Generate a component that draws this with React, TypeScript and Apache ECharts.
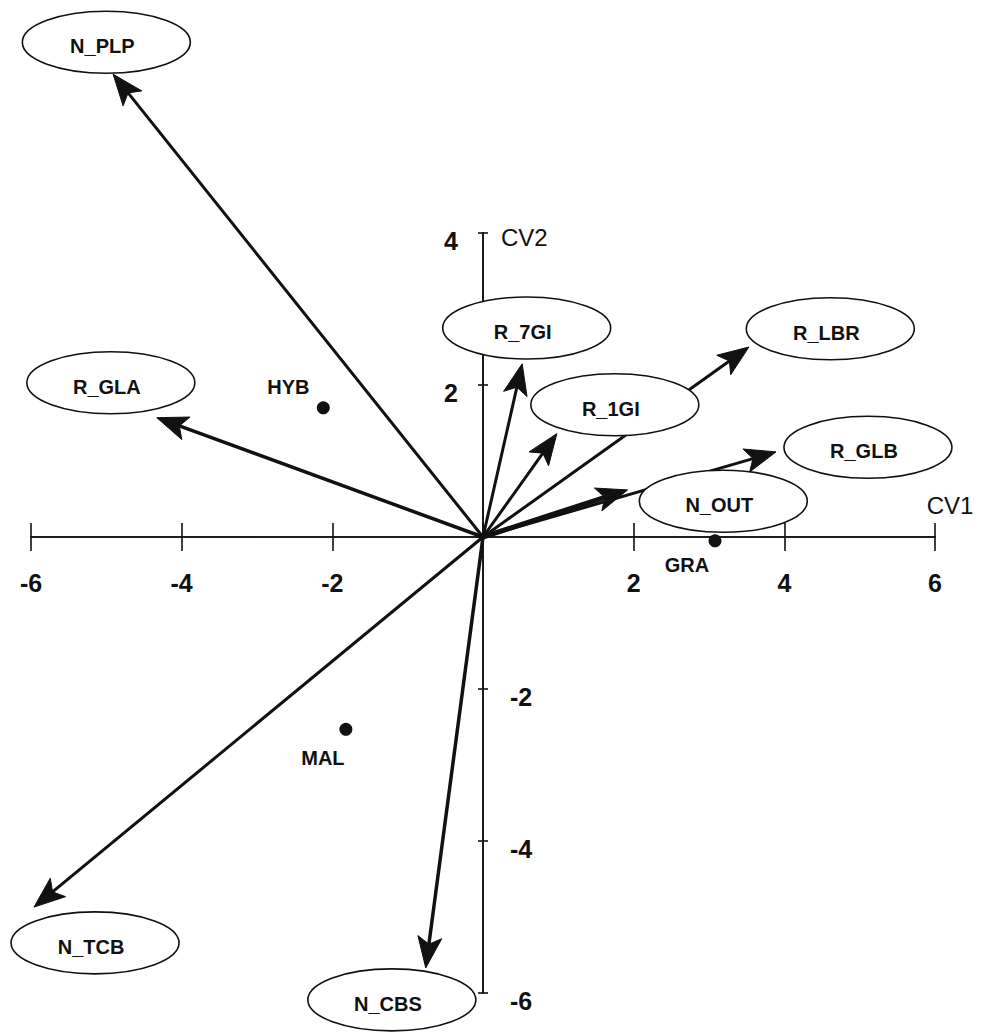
import React, { useEffect, useRef } from "react";
import * as echarts from "echarts";

// ---- data ----
const X_TICKS = [-6, -4, -2, 0, 2, 4, 6];
const Y_TICKS = [-6, -4, -2, 0, 2, 4];
const X_NAME = "CV1";
const Y_NAME = "CV2";

const VAR_NAMES = ["N_PLP", "R_GLA", "R_7GI", "R_1GI", "R_LBR", "R_GLB", "N_OUT", "N_TCB", "N_CBS"];
const VEC_CV1 = [-4.91, -4.33, 0.52, 0.98, 3.53, 3.89, 1.92, -5.96, -0.76];
const VEC_CV2 = [6.09, 1.57, 2.28, 1.36, 2.5, 1.12, 0.62, -4.87, -5.67];
const LABEL_CV1 = [-5.0, -4.94, 0.58, 1.75, 4.61, 5.11, 3.19, -5.15, -1.21];
const LABEL_CV2 = [6.51, 2.03, 2.75, 1.74, 2.74, 1.18, 0.47, -5.34, -6.09];

const GROUP_NAMES = ["HYB", "MAL", "GRA"];
const GROUP_CV1 = [-2.12, -1.82, 3.08];
const GROUP_CV2 = [1.7, -2.53, -0.05];

// ---- styles ----
const INK = "#111111";
const FONT = '"Liberation Sans", Arial, Helvetica, sans-serif';
const ARROW_WIDTH: Record<string, number> = { R_GLA: 3.5, N_CBS: 3.5, N_OUT: 5 };
const GROUP_LABEL_OFFSET: Record<string, [number, number]> = {
  HYB: [-35, -21],
  MAL: [-23, 29],
  GRA: [-28, 24],
};

export default function App() {
  const ref = useRef<HTMLDivElement>(null);

  useEffect(() => {
    document.body.style.margin = "0";
    if (!ref.current) return;
    const chart = echarts.init(ref.current, null, { renderer: "svg" });

    const xMin = X_TICKS[0];
    const xMax = X_TICKS[X_TICKS.length - 1];
    const yMin = Y_TICKS[0];
    const yMax = Y_TICKS[Y_TICKS.length - 1];
    const step = X_TICKS[1] - X_TICKS[0];

    const axisLine = { onZero: true, onZeroAxisIndex: 0, lineStyle: { color: INK, width: 1.6 } };
    const tickStyle = { color: INK, width: 1.6 };

    const baseAxis = {
      type: "value",
      interval: step,
      axisLine,
      axisLabel: { show: false },
      splitLine: { show: false },
    };

    const textStyle = (extra: any) => ({
      fontFamily: FONT,
      fill: INK,
      ...extra,
    });

    const option: any = {
      animation: false,
      backgroundColor: "#ffffff",
      grid: { left: 31, right: 49, top: 233, bottom: 39, containLabel: false, outerBoundsMode: "none" },
      xAxis: [
        { ...baseAxis, position: "bottom", min: xMin, max: xMax, axisTick: { show: true, length: 14, lineStyle: tickStyle } },
        { ...baseAxis, position: "top", min: xMin, max: xMax, axisTick: { show: true, length: 14, lineStyle: tickStyle } },
      ],
      yAxis: [
        { ...baseAxis, position: "left", min: yMin, max: yMax, axisTick: { show: true, length: 5, lineStyle: tickStyle } },
        { ...baseAxis, position: "right", min: yMin, max: yMax, axisTick: { show: true, length: 5, lineStyle: tickStyle } },
      ],
      series: [
        {
          name: "vectors",
          type: "custom",
          coordinateSystem: "cartesian2d",
          clip: false,
          z: 2,
          encode: { x: 0, y: 1 },
          data: VEC_CV1.map((x, i) => [x, VEC_CV2[i]]),
          renderItem: (params: any, api: any) => {
            const o = api.coord([0, 0]);
            const t = api.coord([api.value(0), api.value(1)]);
            const dx = t[0] - o[0];
            const dy = t[1] - o[1];
            const len = Math.hypot(dx, dy) || 1;
            const ux = dx / len;
            const uy = dy / len;
            const px = -uy;
            const py = ux;
            const L = 31;
            const H = 12;
            const N = 24;
            const name = VAR_NAMES[params.dataIndex];
            const w = ARROW_WIDTH[name] ?? 3;
            const bx = t[0] - ux * L;
            const by = t[1] - uy * L;
            const nx = t[0] - ux * N;
            const ny = t[1] - uy * N;
            return {
              type: "group",
              children: [
                {
                  type: "line",
                  shape: { x1: o[0], y1: o[1], x2: nx, y2: ny },
                  style: { stroke: INK, lineWidth: w, lineCap: "round" },
                },
                {
                  type: "polygon",
                  shape: {
                    points: [
                      [t[0], t[1]],
                      [bx + px * H, by + py * H],
                      [nx, ny],
                      [bx - px * H, by - py * H],
                    ],
                  },
                  style: { fill: INK, stroke: INK, lineWidth: 1 },
                },
              ],
            };
          },
        },
        {
          name: "variables",
          type: "custom",
          coordinateSystem: "cartesian2d",
          clip: false,
          z: 3,
          encode: { x: 0, y: 1 },
          data: LABEL_CV1.map((x, i) => [x, LABEL_CV2[i]]),
          renderItem: (params: any, api: any) => {
            const c = api.coord([api.value(0), api.value(1)]);
            return {
              type: "group",
              children: [
                {
                  type: "ellipse",
                  shape: { cx: c[0], cy: c[1], rx: 84, ry: 31 },
                  style: { fill: "#ffffff", stroke: INK, lineWidth: 1.6 },
                },
                {
                  type: "text",
                  style: textStyle({
                    text: VAR_NAMES[params.dataIndex],
                    x: c[0] - 4,
                    y: c[1] + 4,
                    align: "center",
                    verticalAlign: "middle",
                    fontSize: 20,
                    fontWeight: "bold",
                  }),
                },
              ],
            };
          },
        },
        {
          name: "xTickLabels",
          type: "custom",
          coordinateSystem: "cartesian2d",
          clip: false,
          z: 5,
          encode: { x: 0, y: 1 },
          data: X_TICKS.filter((v) => v !== 0).map((v) => [v, 0]),
          renderItem: (params: any, api: any) => {
            const v = api.value(0);
            const c = api.coord([v, 0]);
            return {
              type: "text",
              style: textStyle({
                text: String(v),
                x: c[0],
                y: c[1] + 46,
                align: "center",
                verticalAlign: "middle",
                fontSize: 25,
                fontWeight: "bold",
              }),
            };
          },
        },
        {
          name: "yTickLabels",
          type: "custom",
          coordinateSystem: "cartesian2d",
          clip: false,
          z: 5,
          encode: { x: 0, y: 1 },
          data: Y_TICKS.filter((v) => v !== 0).map((v) => [0, v]),
          renderItem: (params: any, api: any) => {
            const v = api.value(1);
            const c = api.coord([0, v]);
            const pos = v > 0;
            return {
              type: "text",
              style: textStyle({
                text: String(v),
                x: pos ? c[0] - 25 : c[0] + 27,
                y: c[1] + 8,
                align: pos ? "right" : "left",
                verticalAlign: "middle",
                fontSize: 25,
                fontWeight: "bold",
              }),
            };
          },
        },
        {
          name: "axisNames",
          type: "custom",
          coordinateSystem: "cartesian2d",
          clip: false,
          z: 5,
          encode: { x: 0, y: 1 },
          data: [
            [xMax, 0],
            [0, yMax],
          ],
          renderItem: (params: any, api: any) => {
            const c = api.coord([api.value(0), api.value(1)]);
            const isX = params.dataIndex === 0;
            return {
              type: "text",
              style: textStyle({
                text: isX ? X_NAME : Y_NAME,
                x: isX ? c[0] + 15 : c[0] + 18,
                y: isX ? c[1] - 32 : c[1] + 4,
                align: isX ? "center" : "left",
                verticalAlign: "middle",
                fontSize: 24,
              }),
            };
          },
        },
        {
          name: "groups",
          type: "scatter",
          clip: false,
          z: 4,
          symbol: "circle",
          symbolSize: 13,
          itemStyle: { color: INK, opacity: 1 },
          label: {
            show: true,
            position: "inside",
            formatter: "{b}",
            fontSize: 20,
            fontWeight: "bold",
            fontFamily: FONT,
            color: INK,
            opacity: 1,
          },
          data: GROUP_NAMES.map((n, i) => ({
            name: n,
            value: [GROUP_CV1[i], GROUP_CV2[i]],
            label: { offset: GROUP_LABEL_OFFSET[n] },
          })),
        },
      ],
    };

    chart.setOption(option);
    return () => chart.dispose();
  }, []);

  return (
    <div
      ref={ref}
      style={{ position: "absolute", left: 0, top: 0, width: 984, height: 1032, background: "#fff" }}
    />
  );
}
